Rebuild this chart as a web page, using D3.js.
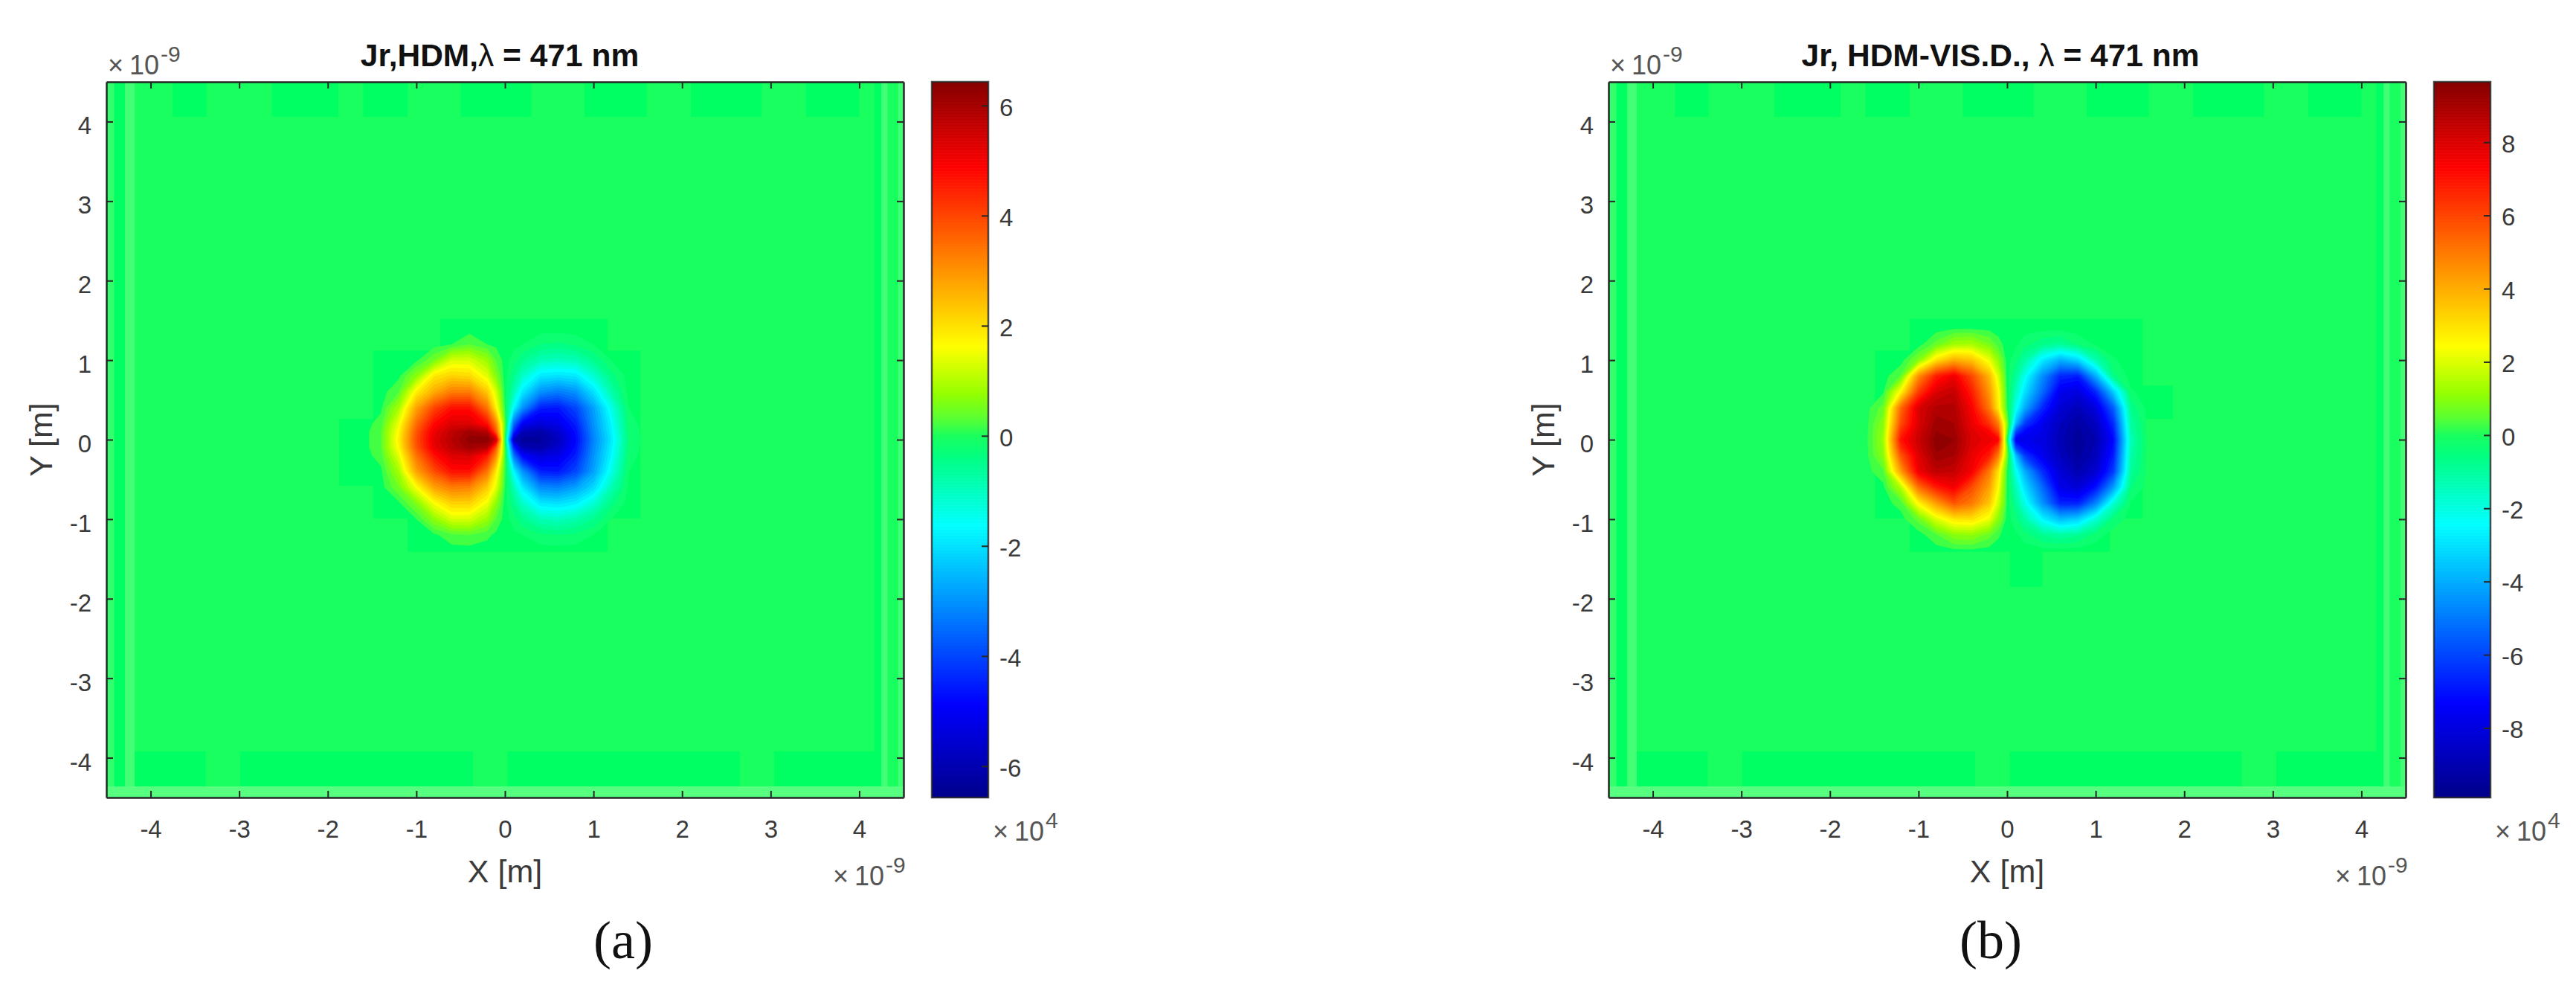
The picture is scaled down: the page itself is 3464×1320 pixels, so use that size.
<!DOCTYPE html>
<html>
<head>
<meta charset="utf-8">
<style>
html, body { margin: 0; background: #fff; }
svg { display: block; }
</style>
<script src="https://cdn.jsdelivr.net/npm/d3@7"></script>
</head>
<body>
<div id="container"></div>
<script>
// grid of the field, x and y in 1e-9 m, values in 1e4
const xGrid = [-1.6,-1.4,-1.2,-1,-0.8,-0.6,-0.4,-0.2,-0.1,0,0.1,0.2,0.4,0.6,0.8,1,1.2,1.4,1.6];
const yGrid = [1.4,1.2,1,0.8,0.6,0.4,0.2,0.1,0,-0.1,-0.2,-0.4,-0.6,-0.8,-1,-1.2,-1.4];

const jrHdm = [
  [0,0,0,0,0,0,0,0,0,0,0,0,0,0,0,0,0,0,0],
  [0,0,0,0,0,.1,.3,.1,.05,0,-.05,-.1,-.3,-.35,-.25,-.1,0,0,0],
  [0,0,0,.05,.5,1.3,1.3,.8,.3,0,-.2,-.5,-.9,-1,-.9,-.5,-.1,0,0],
  [0,0,.05,.7,1.9,2.2,2.1,1.4,.6,0,-.5,-1.1,-1.9,-2,-1.9,-1.2,-.4,0,0],
  [0,0,.3,1.8,2.7,3.3,3.3,2.3,1.3,0,-.9,-1.9,-3,-3.3,-3,-2,-.8,0,0],
  [0,.05,.9,2.8,4,4.7,4.7,3.4,1.8,.1,-1.7,-3,-4.5,-4.6,-4,-2.8,-1.4,-.1,0],
  [0,.2,1.5,3.5,4.8,5.3,5.3,4.7,3.2,.4,-3.5,-5,-5.4,-5.2,-4.5,-3,-1.7,-.2,0],
  [0,.3,1.7,3.8,5.1,5.7,6.1,5.8,3.8,.3,-4.4,-5.9,-6.1,-5.6,-4.7,-3.1,-1.8,-.25,0],
  [0,.3,1.8,3.9,5.2,5.8,6.3,6.4,5.5,0,-5.8,-6.3,-6.3,-5.8,-4.8,-3.2,-1.9,-.3,0],
  [0,.3,1.7,3.8,5.1,5.7,6.1,5.8,3.8,.3,-4.4,-5.9,-6.1,-5.6,-4.7,-3.1,-1.8,-.25,0],
  [0,.2,1.4,3.4,4.7,5.3,5.4,4.6,3.1,.3,-3.4,-4.9,-5.4,-5.2,-4.5,-3,-1.7,-.2,0],
  [0,.05,.9,2.8,3.9,4.7,4.7,3.4,1.9,.2,-1.7,-3,-4.5,-4.6,-4,-2.8,-1.4,-.1,0],
  [0,0,.5,1.6,2.8,3.3,3.2,2.3,1.4,.1,-.9,-1.9,-3.1,-3.2,-2.8,-2.1,-.9,-.05,0],
  [0,0,.05,.6,1.6,2.2,2.2,1.5,.7,0,-.5,-1.1,-1.9,-2,-1.8,-1.2,-.4,0,0],
  [0,0,0,.1,.7,1.3,1.3,.8,.3,0,-.2,-.5,-.9,-1,-.8,-.5,-.1,0,0],
  [0,0,0,0,.05,.25,.3,.15,.05,0,-.05,-.1,-.25,-.3,-.25,-.1,0,0,0],
  [0,0,0,0,0,0,0,0,0,0,0,0,0,0,0,0,0,0,0]
];

const jrVis = [
  [0,0,0,0,0,.1,.1,.05,0,0,0,-.05,-.05,-.05,0,0,0,0,0],
  [0,0,0,0,.6,1.3,1.4,.8,.3,0,-.1,-.3,-.7,-.9,-.4,-.1,0,0,0],
  [0,0,0,.9,3,4,3.6,2.2,1.1,0,-.4,-1.1,-2.8,-3.9,-3.2,-1.3,-.2,0,0],
  [0,0,.5,4.6,6.8,7.6,6,3.8,2,0,-.9,-2.2,-4.6,-6.6,-6.8,-4,-.6,0,0],
  [0,.1,2.6,6.2,8,8.4,6.8,4.4,2.6,.1,-1.5,-3,-5.3,-7.7,-8,-6.6,-3.4,-.2,0],
  [0,.6,5.3,8,8.8,8.8,7.4,5,2.8,.2,-2.2,-4,-6.6,-8.2,-8.8,-8,-5.5,-.7,0],
  [0,1,5.9,8,9.2,9,7.7,6.4,5,1,-3.8,-6.2,-7.7,-8.7,-9.3,-8.7,-6.5,-1,0],
  [0,1.1,6.5,8.2,9.3,9.1,7.9,7.3,6,.8,-6,-7.3,-7.8,-8.8,-9.4,-8.9,-6.9,-1.1,0],
  [0,1.2,7,8.3,9.5,9.3,8,7.6,7.4,0,-7.6,-7.7,-7.9,-8.9,-9.5,-9,-7.2,-1.3,0],
  [0,1.1,6.5,8.2,9.4,9.2,7.9,7.3,6,.8,-6,-7.3,-7.8,-8.8,-9.5,-8.9,-7,-1.2,0],
  [0,1,5.7,7.9,9.2,9,7.7,6.8,5,.8,-3.7,-6.2,-7.7,-8.7,-9.4,-8.8,-6.8,-1.1,0],
  [0,.4,4.3,7.6,8.6,8.4,7.5,5,3,.2,-2.2,-4,-6.5,-8.2,-9,-8.3,-6.2,-.9,0],
  [0,.05,1.5,5.2,6.8,7.5,5.9,4.2,2.5,.1,-1.4,-3,-5.3,-7.8,-8.2,-7,-4.3,-.5,0],
  [0,0,.3,2.6,4.3,5.7,5,3.5,1.9,.1,-.9,-2.1,-4.5,-6.7,-6.7,-4.8,-1.8,-.1,0],
  [0,0,0,.6,2,2.9,3,2.2,1,0,-.4,-1.1,-2.6,-3.7,-3.3,-1.8,-.4,0,0],
  [0,0,0,0,.4,1,1.1,.6,.2,0,-.1,-.3,-.8,-1,-.8,-.3,0,0,0],
  [0,0,0,0,0,.05,.05,0,0,0,0,0,0,0,0,0,0,0,0]
];

// faint blocks in the flat background: [x0, x1, y0, y1, tone], tone above 0 is lighter, below 0 darker
const edgeBlocks = [
  [-4.5,-4.41,-4.5,4.5,.2], [-4.41,-4.29,-4.5,4.5,-1], [-4.29,-4.18,-4.5,4.5,.3],
  [4.17,4.25,-4.5,4.5,-1], [4.25,4.32,-4.5,4.5,.3], [4.44,4.5,-4.5,4.5,.3],
  [-4.18,-3.38,-4.36,-3.92,-1], [-2.99,-.36,-4.36,-3.92,-1], [.03,2.65,-4.36,-3.92,-1], [3.04,4.17,-4.36,-3.92,-1],
  [-3.75,-3.37,4.06,4.5,-1], [-2.63,-1.88,4.06,4.5,-1], [-1.6,-1.1,4.06,4.5,-1], [-.5,.3,4.06,4.5,-1],
  [.9,1.6,4.06,4.5,-1], [2.1,2.9,4.06,4.5,-1], [3.4,4,4.06,4.5,-1],
  [-4.5,4.5,-4.5,-4.36,.45]
];
const innerBlocksHdm = [
  [-1.49,1.53,-.99,1.12,-1], [-.73,1.16,1.12,1.52,-1], [-1.1,1.16,-1.41,-.99,-1], [-1.87,-1.49,-.58,.26,-1]
];
const innerBlocksVis = [
  [-1.49,1.53,-.99,1.12,-1], [-1.1,1.53,1.12,1.52,-1], [-1.1,1.16,-1.41,-.99,-1], [.03,.4,-1.85,-1.41,-1], [1.53,1.87,.26,.68,-1]
];

const axisTicks = [-4,-3,-2,-1,0,1,2,3,4];
const barTicksHdm = [-6,-4,-2,0,2,4,6];
const barTicksVis = [-8,-6,-4,-2,0,2,4,6,8];

// colour map, stops as share of the half range
const mapStops = [-1,-.75,-.25,-.06,0,.05,.12,.25,.75,1];
const mapColors = ['#00008f','#0000ff','#00ffff','#00ff82','#19ff5f','#5aff32','#96ff00','#ffff00','#ff0000','#800000'];

const width = 3464;
const height = 1320;
const tickColor = '#262626';
const labelColor = '#3a3a3a';
const sans = '"Liberation Sans", Arial, sans-serif';
const serif = '"Liberation Serif", "Times New Roman", serif';

const svg = d3.select('#container')
    .append('svg')
    .attr('width', width)
    .attr('height', height)
    .style('font-family', sans);

const lighter = d3.interpolateRgb(mapColors[4], '#a0ffa8');
const darker = '#00ff62';

function power(g, x, y, exp) {
    const t = g.append('text')
        .attr('x', x)
        .attr('y', y)
        .attr('fill', '#555')
        .attr('font-size', 36)
        .text('\u00d7');
    t.append('tspan')
        .attr('dx', 8)
        .text('10');
    t.append('tspan')
        .attr('dx', 2)
        .attr('dy', -17)
        .attr('font-size', 30)
        .text(exp);
}

function drawPanel(p) {
    const g = svg.append('g');
    const x = d3.scaleLinear().domain([-4.5, 4.5]).range([p.left, p.left + 1072]);
    const y = d3.scaleLinear().domain([-4.5, 4.5]).range([1072, 110]);

    const half = p.half;
    const color = d3.scaleLinear()
        .domain(mapStops.map(s => s * half))
        .range(mapColors)
        .clamp(true);

    // flat background and its blocks
    g.append('rect')
        .attr('x', x(-4.5)).attr('y', y(4.5))
        .attr('width', x(4.5) - x(-4.5)).attr('height', y(-4.5) - y(4.5))
        .attr('fill', color(0));

    g.selectAll('.block')
        .data(edgeBlocks.concat(p.blocks))
        .join('rect')
        .attr('class', 'block')
        .attr('x', d => x(d[0]))
        .attr('y', d => y(d[3]))
        .attr('width', d => x(d[1]) - x(d[0]))
        .attr('height', d => y(d[2]) - y(d[3]))
        .attr('fill', d => d[4] < 0 ? darker : lighter(d[4]));

    // the two lobes as filled contours, 32 levels each way like the 64 level map
    const n = xGrid.length, m = yGrid.length;
    const col = d3.scaleLinear().domain(d3.range(n).map(i => i + 0.5)).range(xGrid).clamp(true);
    const row = d3.scaleLinear().domain(d3.range(m).map(i => i + 0.5)).range(yGrid).clamp(true);
    const path = d3.geoPath(d3.geoTransform({
        point(a, b) { this.stream.point(x(col(a)), y(row(b))); }
    }));

    const step = half / 32;
    const thresholds = d3.range(32).map(k => step * (k + 0.5));
    const contours = d3.contours().size([n, m]).thresholds(thresholds);
    const flat = p.values.flat();

    [1, -1].forEach(sign => {
        g.append('g')
            .selectAll('path')
            .data(contours(flat.map(v => v * sign)))
            .join('path')
            .attr('d', path)
            .attr('fill', d => color(sign * (d.value + step / 2)));
    });

    // box with inward ticks on all four sides
    const axes = [
        [d3.axisBottom(x), 0, 1072, true],
        [d3.axisTop(x), 0, 110, false],
        [d3.axisLeft(y), p.left, 0, true],
        [d3.axisRight(y), p.left + 1072, 0, false]
    ];
    axes.forEach(([axis, tx, ty, labels], i) => {
        const a = g.append('g')
            .attr('transform', 'translate(' + tx + ',' + ty + ')')
            .call(axis.tickValues(axisTicks)
                .tickSizeInner(-9).tickSizeOuter(0)
                .tickPadding(i === 0 ? 31 : 20)
                .tickFormat(labels ? String : ''));
        a.attr('font-family', null);
        a.select('.domain').attr('stroke', tickColor).attr('stroke-width', 2.5);
        a.selectAll('.tick line').attr('stroke', tickColor).attr('stroke-width', 2);
        a.selectAll('text').attr('fill', labelColor).attr('font-size', 33);
        if (i === 2) a.selectAll('text').attr('dy', '0.5em');
    });

    // colour bar
    const barLeft = p.left + 1110;
    const barWidth = 76;
    const barScale = d3.scaleLinear().domain(p.barDomain).range([1072, 110]);
    const levels = d3.range(0, 240).map(i => p.barDomain[0] + (p.barDomain[1] - p.barDomain[0]) * i / 240);
    const levelSize = (p.barDomain[1] - p.barDomain[0]) / 240;

    g.selectAll('.level')
        .data(levels)
        .join('rect')
        .attr('class', 'level')
        .attr('x', barLeft)
        .attr('y', d => barScale(d + levelSize))
        .attr('width', barWidth)
        .attr('height', d => barScale(d) - barScale(d + levelSize) + 0.6)
        .attr('fill', d => color(d + levelSize / 2));

    g.append('rect')
        .attr('x', barLeft).attr('y', 110)
        .attr('width', barWidth).attr('height', 962)
        .attr('fill', 'none')
        .attr('stroke', tickColor)
        .attr('stroke-width', 2.5)
        .attr('stroke-opacity', 0.8);

    const barAxis = g.append('g')
        .attr('transform', 'translate(' + (barLeft + barWidth) + ',0)')
        .call(d3.axisRight(barScale)
            .tickValues(p.barTicks)
            .tickSizeInner(-9).tickSizeOuter(0)
            .tickPadding(15)
            .tickFormat(String));
    barAxis.attr('font-family', null);
    barAxis.select('.domain').remove();
    barAxis.selectAll('.tick line').attr('stroke', tickColor).attr('stroke-width', 2);
    barAxis.selectAll('text').attr('fill', labelColor).attr('font-size', 33).attr('dy', '0.4em');

    // texts
    const title = g.append('text')
        .attr('x', p.titleX)
        .attr('y', 89)
        .attr('text-anchor', 'middle')
        .attr('fill', '#111')
        .attr('font-size', 42.5)
        .attr('font-weight', 'bold');
    title.append('tspan').text(p.title[0]);
    title.append('tspan').attr('font-weight', 'normal').text('\u03bb');
    title.append('tspan').text(p.title[1]);

    g.append('text')
        .attr('x', x(0))
        .attr('y', 1186)
        .attr('text-anchor', 'middle')
        .attr('fill', labelColor)
        .attr('font-size', 43)
        .text('X [m]');

    g.append('text')
        .attr('transform', 'translate(' + (p.left - 73) + ',' + y(0) + ') rotate(-90)')
        .attr('text-anchor', 'middle')
        .attr('fill', labelColor)
        .attr('font-size', 43)
        .text('Y [m]');

    power(g, p.left + 2, 100, '-9');
    power(g, p.left + 977, 1190, '-9');
    power(g, barLeft + 82, 1130, '4');

    g.append('text')
        .attr('x', p.tagX)
        .attr('y', 1288)
        .attr('text-anchor', 'middle')
        .attr('fill', '#111')
        .attr('font-size', 72)
        .style('font-family', serif)
        .text(p.tag);
}

drawPanel({
    left: 143,
    values: jrHdm,
    half: 6.5,
    blocks: innerBlocksHdm,
    barDomain: [-6.57, 6.43],
    barTicks: barTicksHdm,
    title: ['Jr,HDM,', ' = 471 nm'],
    titleX: 672,
    tag: '(a)',
    tagX: 838
});

drawPanel({
    left: 2163,
    values: jrVis,
    half: 9.75,
    blocks: innerBlocksVis,
    barDomain: [-9.9, 9.65],
    barTicks: barTicksVis,
    title: ['Jr, HDM-VIS.D., ', ' = 471 nm'],
    titleX: 2690,
    tag: '(b)',
    tagX: 2677
});
</script>
</body>
</html>
